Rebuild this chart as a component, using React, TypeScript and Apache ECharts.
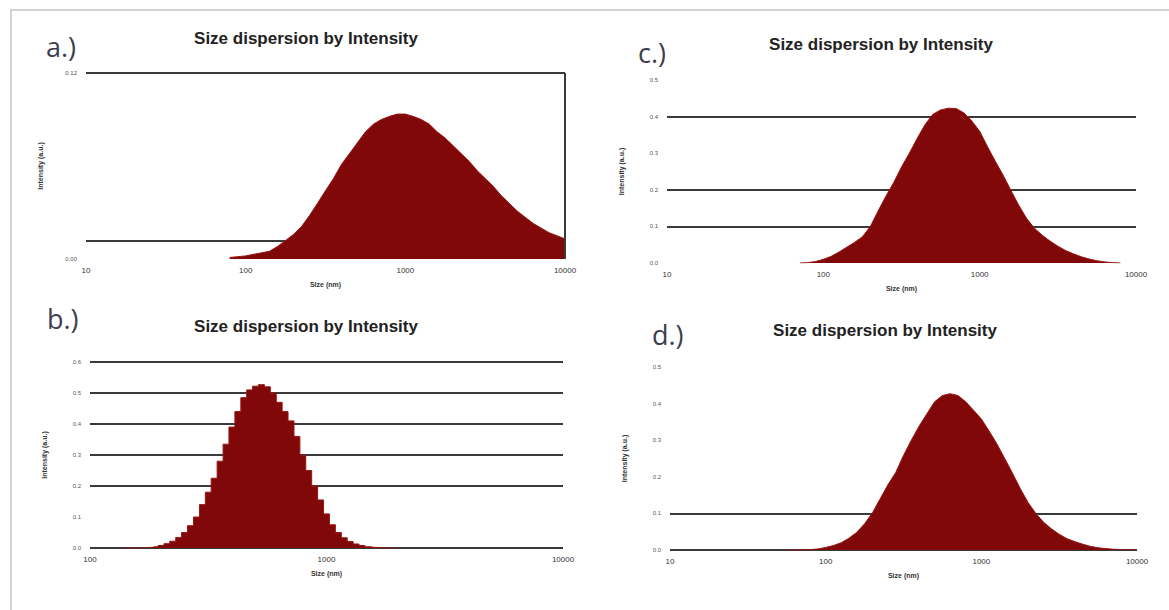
import React, { useEffect, useRef } from 'react';
import * as echarts from 'echarts';

// ---------- data ----------
const TITLE = 'Size dispersion by Intensity';
const X_NAME = 'Size (nm)';
const Y_NAME = 'Intensity (a.u.)';
const PANEL_LABELS = ['a.)', 'b.)', 'c.)', 'd.)'];

const SIZES_A = [79.4, 89.1, 100, 112, 126, 141, 158, 178, 200, 224, 251, 282, 316, 355, 398, 447, 501, 562, 631, 708, 794, 891, 1000, 1122, 1259, 1413, 1585, 1778, 1995, 2239, 2512, 2818, 3162, 3548, 3981, 4467, 5012, 5623, 6310, 7079, 7943, 8913, 10000];
const VALUES_A = [0.001, 0.0015, 0.002, 0.003, 0.004, 0.005, 0.008, 0.012, 0.016, 0.021, 0.028, 0.036, 0.044, 0.052, 0.061, 0.068, 0.075, 0.082, 0.087, 0.09, 0.092, 0.0935, 0.0935, 0.092, 0.09, 0.087, 0.082, 0.078, 0.073, 0.068, 0.063, 0.057, 0.052, 0.047, 0.041, 0.036, 0.031, 0.027, 0.023, 0.02, 0.017, 0.015, 0.013];

const SIZES_B = [141, 150, 158, 168, 178, 188, 200, 211, 224, 237, 251, 266, 282, 299, 316, 335, 355, 376, 398, 422, 447, 473, 501, 531, 562, 596, 631, 668, 708, 750, 794, 841, 891, 944, 1000, 1059, 1122, 1189, 1259, 1334, 1413, 1496, 1585, 1679, 1778, 1884, 1995];
const VALUES_B = [0, 0, 0, 0.001, 0.002, 0.004, 0.008, 0.014, 0.022, 0.034, 0.05, 0.072, 0.1, 0.14, 0.18, 0.225, 0.28, 0.335, 0.39, 0.44, 0.485, 0.51, 0.522, 0.527, 0.52, 0.5, 0.47, 0.44, 0.41, 0.36, 0.3, 0.25, 0.2, 0.155, 0.11, 0.075, 0.05, 0.033, 0.021, 0.013, 0.008, 0.004, 0.002, 0.001, 0, 0, 0];

const SIZES_C = [70.8, 79.4, 89.1, 100, 112, 126, 141, 158, 178, 200, 224, 251, 282, 316, 355, 398, 447, 501, 562, 631, 708, 794, 891, 1000, 1122, 1259, 1413, 1585, 1778, 1995, 2239, 2512, 2818, 3162, 3548, 3981, 4467, 5012, 5623, 6310, 7079, 7943];
const VALUES_C = [0, 0.001, 0.004, 0.01, 0.018, 0.03, 0.043, 0.056, 0.072, 0.1, 0.142, 0.182, 0.22, 0.262, 0.3, 0.34, 0.378, 0.406, 0.418, 0.423, 0.422, 0.41, 0.388, 0.36, 0.318, 0.278, 0.24, 0.198, 0.158, 0.122, 0.095, 0.076, 0.06, 0.046, 0.034, 0.025, 0.017, 0.011, 0.006, 0.003, 0.001, 0];

const SIZES_D = [56.2, 63.1, 70.8, 79.4, 89.1, 100, 112, 126, 141, 158, 178, 200, 224, 251, 282, 316, 355, 398, 447, 501, 562, 631, 708, 794, 891, 1000, 1122, 1259, 1413, 1585, 1778, 1995, 2239, 2512, 2818, 3162, 3548, 3981, 4467, 5012, 5623, 6310, 7079, 7943, 8913, 10000];
const VALUES_D = [0, 0, 0, 0.001, 0.003, 0.007, 0.012, 0.02, 0.032, 0.048, 0.072, 0.102, 0.14, 0.178, 0.212, 0.258, 0.3, 0.338, 0.372, 0.405, 0.422, 0.427, 0.422, 0.405, 0.382, 0.358, 0.325, 0.29, 0.25, 0.21, 0.168, 0.13, 0.1, 0.076, 0.058, 0.043, 0.031, 0.023, 0.016, 0.01, 0.006, 0.004, 0.002, 0.001, 0, 0];

// y-axis ranges and which horizontal lines are drawn
const Y_MAX_A = 0.12; const Y_STEP_A = 0.012; const Y_LABELS_A = [0, 0.12]; const GRIDLINES_A = [0.012, 0.12];
const Y_MAX_B = 0.6; const Y_STEP_B = 0.1; const GRIDLINES_B = [0, 0.2, 0.3, 0.4, 0.5, 0.6];
const Y_MAX_C = 0.5; const Y_STEP_C = 0.1; const GRIDLINES_C = [0.1, 0.2, 0.4];
const Y_MAX_D = 0.5; const Y_STEP_D = 0.1; const GRIDLINES_D = [0, 0.1];
const X_MIN_A = 10; const X_MIN_B = 100; const X_MIN_C = 10; const X_MIN_D = 10; const X_MAX = 10000;

// ---------- layout ----------
const panels = [
  { sizes: SIZES_A, values: VALUES_A, yMax: Y_MAX_A, yStep: Y_STEP_A, yLabels: Y_LABELS_A, lines: GRIDLINES_A, digits: 2, xMin: X_MIN_A,
    grid: { left: 86, top: 73, width: 479, height: 186 }, step: false, border: true,
    label: { x: 46, y: 46 }, title: { x: 306, y: 38 } },
  { sizes: SIZES_B, values: VALUES_B, yMax: Y_MAX_B, yStep: Y_STEP_B, yLabels: null, lines: GRIDLINES_B, digits: 1, xMin: X_MIN_B,
    grid: { left: 90, top: 362, width: 473, height: 186 }, step: 'middle', border: false,
    label: { x: 47, y: 318 }, title: { x: 306, y: 326 } },
  { sizes: SIZES_C, values: VALUES_C, yMax: Y_MAX_C, yStep: Y_STEP_C, yLabels: null, lines: GRIDLINES_C, digits: 1, xMin: X_MIN_C,
    grid: { left: 667, top: 80, width: 469, height: 183 }, step: false, border: false,
    label: { x: 638, y: 52 }, title: { x: 881, y: 44 } },
  { sizes: SIZES_D, values: VALUES_D, yMax: Y_MAX_D, yStep: Y_STEP_D, yLabels: null, lines: GRIDLINES_D, digits: 1, xMin: X_MIN_D,
    grid: { left: 670, top: 367, width: 467, height: 183 }, step: false, border: false,
    label: { x: 652, y: 334 }, title: { x: 885, y: 330 } },
];

const LINE_COLOR = '#3a3a3a';
const FILL = '#800808';

export default function App() {
  const ref = useRef<HTMLDivElement>(null);
  useEffect(() => {
    if (!ref.current) return;
    const chart = echarts.init(ref.current, null, { renderer: 'svg' });

    const grids: any[] = [];
    const xAxes: any[] = [];
    const yAxes: any[] = [];
    const series: any[] = [];
    const graphics: any[] = [
      { type: 'polyline', shape: { points: [[11, 610], [11, 10], [1169, 10]] }, style: { stroke: '#c4c4c4', lineWidth: 1.5, fill: 'none' } },
    ];

    panels.forEach((p, i) => {
      grids.push({ ...p.grid, containLabel: false });
      xAxes.push({
        type: 'log', logBase: 10, gridIndex: i, min: p.xMin, max: X_MAX,
        name: X_NAME, nameLocation: 'middle', nameGap: 22,
        nameTextStyle: { fontSize: 7, color: '#333', fontFamily: 'Liberation Sans', fontWeight: 'bold' },
        axisLine: { show: false }, axisTick: { show: false }, splitLine: { show: false },
        axisLabel: { fontSize: 8, color: '#333', fontFamily: 'Liberation Sans', margin: 7, formatter: (v: number) => String(Math.round(v)) },
      });
      const nTicks = Math.round(p.yMax / p.yStep);
      const colors: string[] = [];
      for (let k = 0; k <= nTicks; k++) {
        const v = k * p.yStep;
        colors.push(p.lines.some((l) => Math.abs(l - v) < 1e-6) ? LINE_COLOR : 'rgba(0,0,0,0)');
      }
      yAxes.push({
        type: 'value', gridIndex: i, min: 0, max: p.yMax, interval: p.yStep,
        name: Y_NAME, nameLocation: 'middle', nameGap: 42, nameRotate: 90,
        nameTextStyle: { fontSize: 7, color: '#333', fontFamily: 'Liberation Sans', fontWeight: 'bold' },
        axisLine: { show: false }, axisTick: { show: false },
        splitLine: { show: true, lineStyle: { color: colors, width: 2 } },
        axisLabel: {
          fontSize: 6, color: '#555', fontFamily: 'Liberation Sans', margin: 9,
          formatter: (v: number) => {
            if (p.yLabels && !p.yLabels.some((l) => Math.abs(l - v) < 1e-6)) return '';
            return v.toFixed(p.digits);
          },
        },
      });
      const s: any = {
        type: 'line', xAxisIndex: i, yAxisIndex: i, step: p.step, symbol: 'none',
        data: p.sizes.map((x, k) => [x, p.values[k]]),
        lineStyle: { color: '#9a1414', width: 1 },
        areaStyle: { color: FILL, opacity: 1 },
        silent: true,
      };
      if (p.border) {
        s.markLine = {
          silent: true, symbol: 'none', label: { show: false },
          lineStyle: { color: LINE_COLOR, width: 2, type: 'solid' },
          data: [{ xAxis: X_MAX }],
        };
      }
      series.push(s);

      graphics.push({
        type: 'text', x: p.label.x, y: p.label.y,
        style: { text: PANEL_LABELS[i], font: '27px "Open Sans"', fill: '#3d3d4d', verticalAlign: 'middle', align: 'left' },
      });
      graphics.push({
        type: 'text', x: p.title.x, y: p.title.y,
        style: { text: TITLE, font: 'bold 17px "Liberation Sans"', fill: '#222', verticalAlign: 'middle', align: 'center' },
      });
    });

    chart.setOption({
      animation: false,
      backgroundColor: '#fff',
      grid: grids,
      xAxis: xAxes,
      yAxis: yAxes,
      series,
      graphic: graphics,
    });
    return () => chart.dispose();
  }, []);
  return <div ref={ref} style={{ position: 'fixed', left: 0, top: 0, width: 1169, height: 610 }} />;
}
